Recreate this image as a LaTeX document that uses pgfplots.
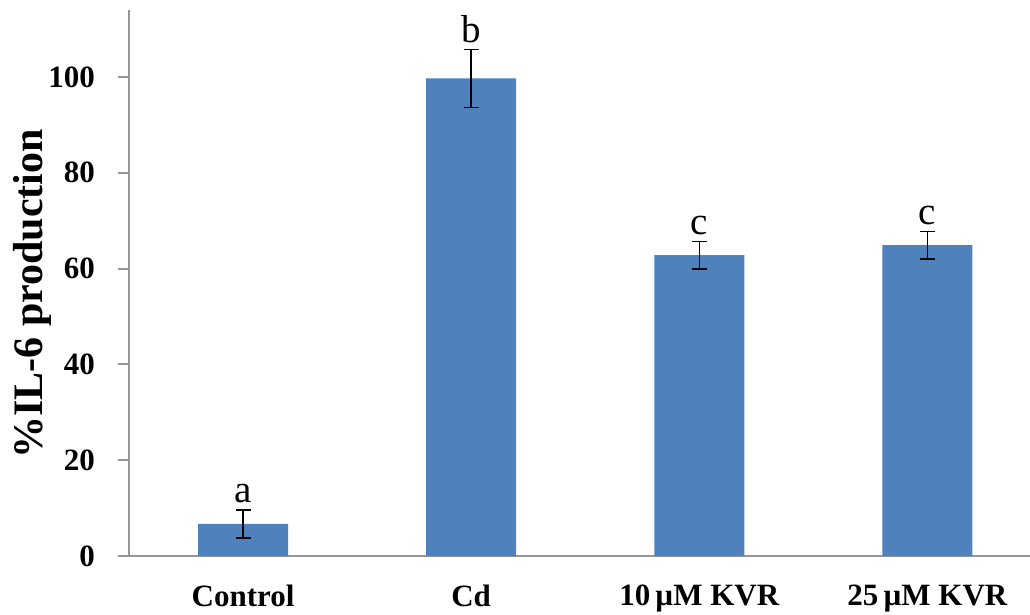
\documentclass[border=0pt]{standalone}
\usepackage{fontspec}
\setmainfont{Liberation Serif}
\usepackage{pgfplots}
\pgfplotsset{compat=1.18}
\usetikzlibrary{calc}
\definecolor{barblue}{HTML}{4F81BD}
\definecolor{axisgray}{RGB}{150,150,150}
\begin{document}
\begin{tikzpicture}
\begin{axis}[
  name=ax,
  scale only axis,
  width=450.5pt, height=273pt,
  xmin=-0.5, xmax=3.45,
  ymin=0, ymax=114,
  axis lines=left,
  axis line style={draw=axisgray, line width=1pt, -},
  ytick={0,20,40,60,80,100},
  xtick={0,1,2,3},
  xticklabels={Control, Cd, 10\,µM KVR, 25\,µM KVR},
  x tick style={draw=none},
  y tick style={draw=axisgray, line width=1pt},
  tick align=outside,
  major tick length=5.5pt,
  /pgf/number format/assume math mode=true,
  tick label style={font=\bfseries\fontsize{15.5}{18}\selectfont},
  yticklabel style={xshift=-8pt},
  xticklabel style={yshift=-5.5pt},
  ylabel={\%IL-6 production},
  ylabel style={at={(rel axis cs:-0.1077,0.48)}, anchor=center, font=\bfseries\fontsize{21}{24}\selectfont},
  ybar, bar width=45pt, bar shift=0pt,
  clip=false,
]
\addplot[fill=barblue, draw=none,
  error bars/.cd, y dir=both, y explicit,
  error mark=-,
  error bar style={line width=0.75pt, black, solid},
  error mark options={rotate=90, line width=0.75pt, black, mark size=3.75pt}]
  coordinates {
  (0,6.7) +- (0,2.95)
  (1,99.7) +- (0,6.1)
  (2,62.8) +- (0,2.9)
  (3,64.9) +- (0,2.9)
};
\node[anchor=base, font=\fontsize{19.5}{22}\selectfont] at (axis cs:0,9.65) [yshift=3.5pt] {a};
\node[anchor=base, font=\fontsize{19.5}{22}\selectfont] at (axis cs:1,105.8) [yshift=3.5pt] {b};
\node[anchor=base, font=\fontsize{19.5}{22}\selectfont] at (axis cs:2,65.7) [yshift=3.5pt] {c};
\node[anchor=base, font=\fontsize{19.5}{22}\selectfont] at (axis cs:3,67.8) [yshift=3.5pt] {c};
\end{axis}
\pgfresetboundingbox
\path ($(ax.south west)+(-64.5pt,-29pt)$) rectangle ($(ax.north east)+(0,5pt)$);
\end{tikzpicture}
\end{document}
